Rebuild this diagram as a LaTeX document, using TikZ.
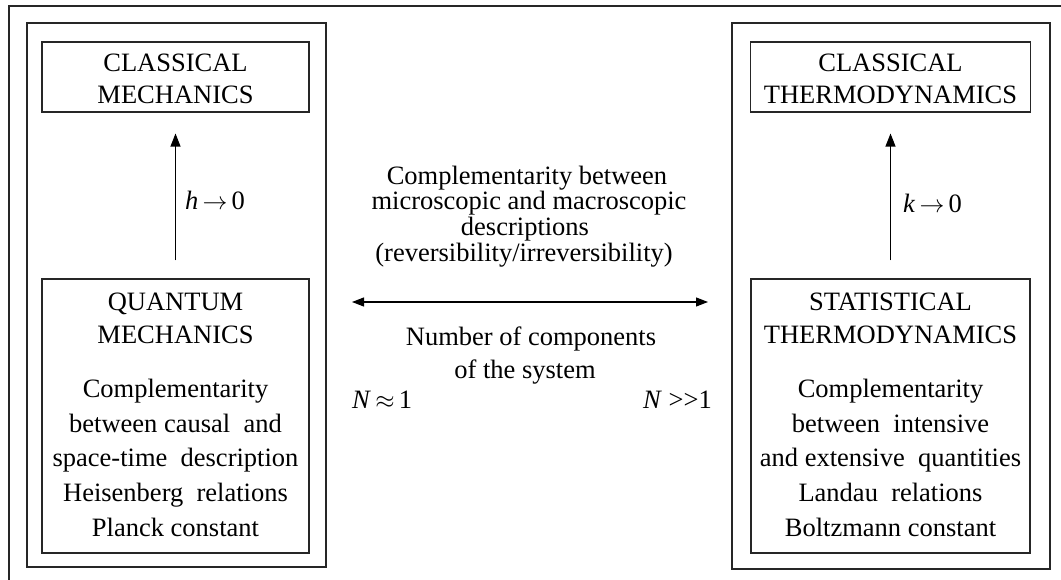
\documentclass[tikz,border=0pt]{standalone}
\usepackage{fontspec}
\setmainfont{Liberation Serif}
\usetikzlibrary{arrows.meta}
\tikzset{
  box/.style={draw=black!85, line width=1.1pt, inner sep=0pt},
  group/.style={draw=black!85, line width=1.3pt, inner sep=0pt},
  txt/.style={anchor=base, inner sep=0pt, font=\fontsize{26.5}{32}\selectfont},
  lbl/.style={inner sep=0pt, font=\fontsize{26.5}{32}\selectfont},
  uparrow/.style={line width=1.1pt, -{Triangle[length=13pt,width=10pt]}, shorten <=18pt, shorten >=21pt},
  dblarrow/.style={line width=1.1pt, {Triangle[length=12pt,width=9pt]}-{Triangle[length=12pt,width=9pt]}}
}
\begin{document}
\begin{tikzpicture}[x=1pt,y=-1pt]
\useasboundingbox (0,0) rectangle (1061,580);
\clip (0,0) rectangle (1061,580);
% outer frame (only top and left visible)
\draw[line width=1.3pt, draw=black!85] (9,600) -- (9,6) -- (1080,6);
% groups
\node[group, minimum width=299pt, minimum height=544pt] (lgroup) at (176.5,295) {};
\node[group, minimum width=318pt, minimum height=546pt] (rgroup) at (891,296) {};
% boxes
\node[box, minimum width=267pt, minimum height=70pt] (cm) at (175.5,77) {};
\node[box, minimum width=267pt, minimum height=274pt] (qm) at (175.5,416) {};
\node[box, minimum width=280pt, minimum height=70pt] (ct) at (890.5,77) {};
\node[box, minimum width=279pt, minimum height=274pt] (st) at (890.5,416) {};
% texts left
\node[txt] (cm1) at (175.5,72) {CLASSICAL};
\node[txt] (cm2) at (175.5,104) {MECHANICS};
\node[txt] (qm1) at (175.5,311) {QUANTUM};
\node[txt] (qm2) at (175.5,343) {MECHANICS};
\node[txt] (qm3) at (175.5,397) {Complementarity};
\node[txt] (qm4) at (175.5,432) {between causal\ \ and};
\node[txt] (qm5) at (175.5,466) {space-time\ \ description};
\node[txt] (qm6) at (175.5,501) {Heisenberg\ \ relations};
\node[txt] (qm7) at (175.5,536) {Planck constant};
% texts right
\node[txt] (ct1) at (890.5,72) {CLASSICAL};
\node[txt] (ct2) at (890.5,104) {THERMODYNAMICS};
\node[txt] (st1) at (890.5,311) {STATISTICAL};
\node[txt] (st2) at (890.5,343) {THERMODYNAMICS};
\node[txt] (st3) at (890.5,397) {Complementarity};
\node[txt] (st4) at (890.5,432) {between\ \ intensive};
\node[txt] (st5) at (890.5,466) {and extensive\ \ quantities};
\node[txt] (st6) at (890.5,501) {Landau\ \ relations};
\node[txt] (st7) at (890.5,536) {Boltzmann constant};
% vertical arrows
\draw[uparrow] (qm.north) -- (cm.south);
\draw[uparrow] (st.north) -- (ct.south);
\node[lbl, anchor=base west] (hlim) at (185,210) {\textit{h}$\,\rightarrow\,$0};
\node[lbl, anchor=base west] (klim) at (903,213) {\textit{k}$\,\rightarrow\,$0};
% middle
\node[txt] (m1) at (527,185) {Complementarity between};
\node[txt] (m2) at (529,210) {microscopic and macroscopic};
\node[txt] (m3) at (525,236) {descriptions};
\node[txt] (m4) at (524,262) {(reversibility/irreversibility)};
\coordinate (la) at (352,302);
\coordinate (ra) at (708,302);
\draw[dblarrow] (la) -- (ra);
\node[txt] (n1) at (531,345) {Number of components};
\node[txt] (n2) at (525,378) {of the system};
\node[lbl, anchor=base west] (nsmall) at (352,408) {\textit{N}$\,\approx\,$1};
\node[lbl, anchor=base east] (nlarge) at (712,408) {\textit{N} >\kern0pt>1};
\end{tikzpicture}
\end{document}
